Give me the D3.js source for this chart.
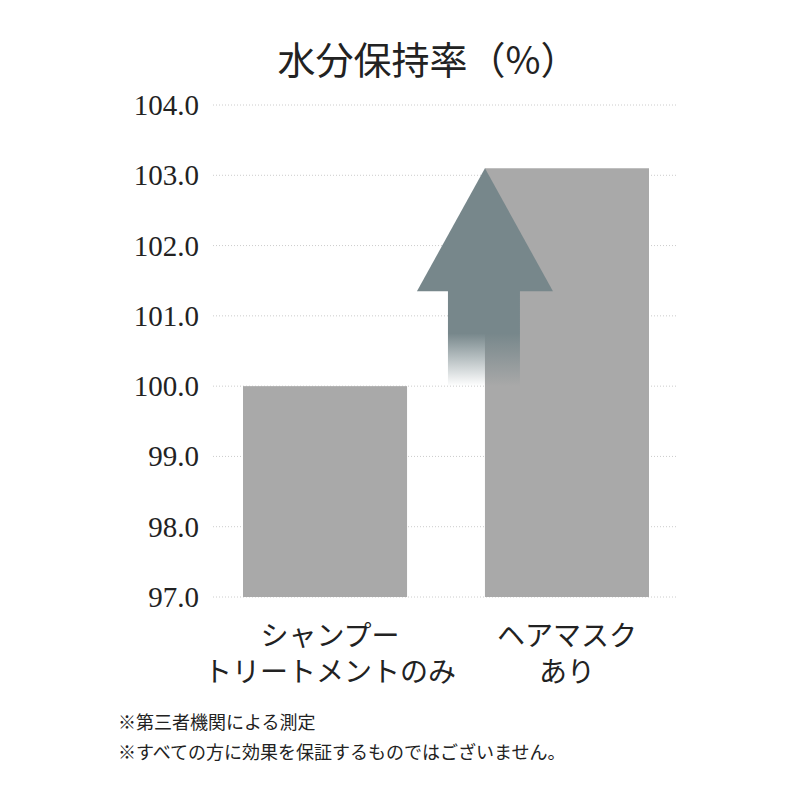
<!DOCTYPE html>
<html><head><meta charset="utf-8">
<script src="https://cdn.jsdelivr.net/npm/d3@7"></script>
<style>body{margin:0;background:#fff}</style></head>
<body><svg id="c" width="800" height="800"></svg>
<script>
const categories = [["シャンプー","トリートメントのみ"],["ヘアマスク","あり"]];
const values = [100.0, 103.1];
const ticks = [97,98,99,100,101,102,103,104];
const title = "水分保持率（%）";
const notes = ["※第三者機関による測定","※すべての方に効果を保証するものではございません。"];

const svg = d3.select("#c");
const jp = "'Noto Sans CJK JP', sans-serif";
const y = d3.scaleLinear().domain([97,104]).range([597,105]);
const x = d3.scaleBand().domain([0,1]).range([213,679]).paddingInner(0.322).paddingOuter(0.124);

svg.append("text").attr("x",428).attr("y",74).attr("text-anchor","middle")
  .attr("font-family",jp).attr("font-size",38).attr("fill","#222").text(title);

ticks.forEach(t=>{
  svg.append("line").attr("x1",213).attr("x2",676).attr("y1",y(t)).attr("y2",y(t))
    .attr("stroke","#ccc").attr("stroke-dasharray","1,2");
  svg.append("text").attr("x",199).attr("y",y(t)+10).attr("text-anchor","end")
    .attr("font-family","'Liberation Serif', serif").attr("font-size",29).attr("fill","#222")
    .text(t.toFixed(1));
});

values.forEach((v,i)=>{
  svg.append("rect").attr("x",x(i)).attr("width",x.bandwidth()).attr("y",y(v)).attr("height",y(97)-y(v)).attr("fill","#a9a9a9");
});

const defs = svg.append("defs");
const g = defs.append("linearGradient").attr("id","fade").attr("x1",0).attr("x2",0).attr("y1",0).attr("y2",1);
g.append("stop").attr("offset","0%").attr("stop-color","#77878b").attr("stop-opacity",1);
g.append("stop").attr("offset","45%").attr("stop-color","#77878b").attr("stop-opacity",1);
g.append("stop").attr("offset","100%").attr("stop-color","#77878b").attr("stop-opacity",0);
const ax = x(1), headY = y(101.35);
svg.append("rect").attr("x",ax-37).attr("width",72).attr("y",headY-1).attr("height",y(100)-headY+1).attr("fill","url(#fade)");
svg.append("path").attr("d",`M${ax},${y(values[1])}L${ax+68},${headY}L${ax-68},${headY}Z`).attr("fill","#77878b");

categories.forEach((lines,i)=>{
  lines.forEach((l,j)=>{
    svg.append("text").attr("x",x(i)+x.bandwidth()/2+(i==0?5:0)).attr("y",646+j*36).attr("text-anchor","middle")
      .attr("font-family",jp).attr("font-size",28).attr("fill","#222").text(l);
  });
});
notes.forEach((n,i)=>{
  svg.append("text").attr("x",118).attr("y",729+i*30).attr("font-family",jp).attr("font-size",18).attr("fill","#222").text(n);
});
</script></body></html>
